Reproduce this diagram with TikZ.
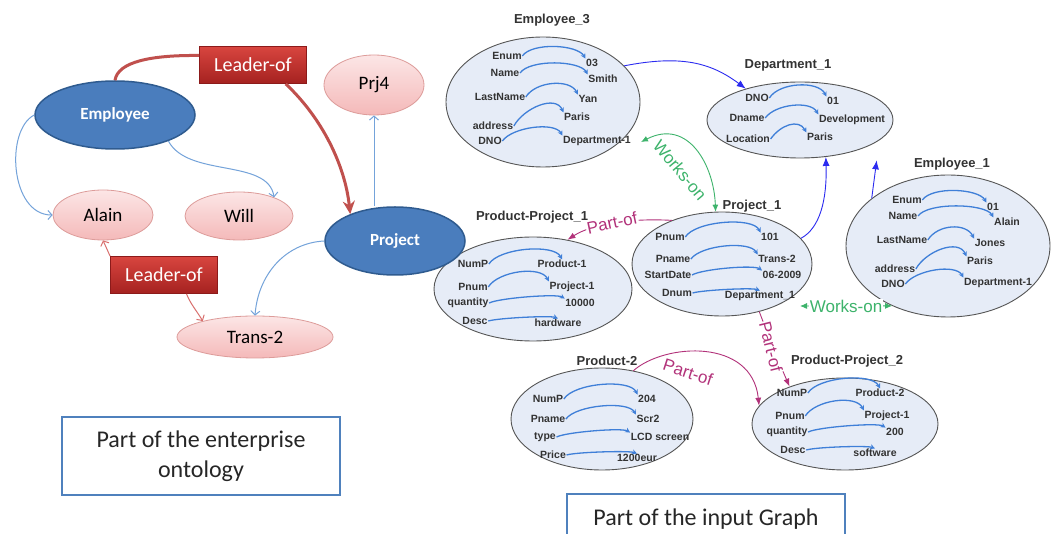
\documentclass[tikz,border=0pt]{standalone}
\usepackage{fontspec}
\setmainfont{Carlito}
\newfontfamily\arialf{Liberation Sans}
\usetikzlibrary{shapes.geometric,arrows.meta}
\definecolor{ontoblue}{HTML}{4A7DBD}
\definecolor{ontoblueb}{HTML}{2F5B8F}
\definecolor{pinktop}{HTML}{FCE6E6}
\definecolor{pinkbot}{HTML}{F4B9B9}
\definecolor{pinkline}{HTML}{DD9C9A}
\definecolor{leadtop}{HTML}{D8453F}
\definecolor{leadbot}{HTML}{A52220}
\definecolor{leadline}{HTML}{8C1A1A}
\definecolor{thinblue}{HTML}{74A3DA}
\definecolor{thickred}{HTML}{C0504D}
\definecolor{thinred}{HTML}{D9706E}
\definecolor{graphfill}{HTML}{E6ECF7}
\definecolor{graphline}{HTML}{555555}
\definecolor{innerblue}{HTML}{3F7FD8}
\definecolor{linkblue}{HTML}{2B2BF0}
\definecolor{workgreen}{HTML}{3DB36B}
\definecolor{partmag}{HTML}{B2327A}
\definecolor{txtgray}{HTML}{333333}
\definecolor{boxblue}{HTML}{4F81BD}
\newcommand\gattr[9]{%
  \node[glabel] (#1l) at (#2,#3) {#4};
  \node[glabel] (#1v) at (#5,#6) {#7};
  \draw[inarr] (#1l.east) .. controls +(10,-#8) and +(-8,-#8) .. (#1v.#9);
}
\tikzset{
  bluenode/.style={ellipse, draw=ontoblueb, line width=1.5pt, fill=ontoblue, text=white,
    font=\bfseries\fontsize{17}{19}\selectfont, inner sep=0pt},
  pinknode/.style={ellipse, draw=pinkline, line width=0.8pt, top color=pinktop, bottom color=pinkbot,
    font=\fontsize{19}{22}\selectfont, inner sep=0pt},
  leadbox/.style={rectangle, draw=leadline, line width=0.8pt, top color=leadtop, bottom color=leadbot,
    text=white, font=\fontsize{20}{22}\selectfont, minimum width=107pt, minimum height=37pt, inner sep=0pt},
  textbox/.style={rectangle, draw=boxblue, line width=1.6pt, fill=white, align=center,
    font=\fontsize{24}{30}\selectfont, text=black!85, minimum width=278pt},
  gnode/.style={ellipse, draw=graphline, line width=0.9pt, fill=graphfill, inner sep=0pt},
  gtitle/.style={font=\arialf\bfseries\fontsize{13}{15}\selectfont, text=txtgray, inner sep=1pt},
  glabel/.style={font=\arialf\bfseries\fontsize{10.5}{12}\selectfont, text=txtgray, inner sep=0.5pt},
  inarr/.style={draw=innerblue, line width=1.3pt, -{Stealth[length=5pt,width=5pt]}},
  linkarr/.style={draw=linkblue, line width=0.9pt, -{Latex[length=9pt,width=7pt]}},
  worksarr/.style={draw=workgreen, line width=0.9pt, {Latex[length=7pt,width=6pt]}-{Latex[length=7pt,width=6pt]}},
  partarr/.style={draw=partmag, line width=0.9pt, -{Latex[length=8pt,width=6pt]}},
  worklabel/.style={font=\arialf\fontsize{17}{19}\selectfont, text=workgreen, inner sep=1pt},
  partlabel/.style={font=\arialf\fontsize{17}{19}\selectfont, text=partmag, inner sep=1pt},
  bluethin/.style={draw=thinblue, line width=1pt, -{Straight Barb[length=4pt,width=9pt]}},
  redthin/.style={draw=thinred, line width=1pt, -{Straight Barb[length=4pt,width=9pt]}},
  redthick/.style={draw=thickred, line width=3pt},
}
\begin{document}
\begin{tikzpicture}[x=1pt,y=-1pt]
\useasboundingbox (0,0) rectangle (1053,534);
\clip (0,0) rectangle (1053,534);
\fill[white] (0,0) rectangle (1053,534);

% ---------- input graph ----------
\node[gnode, minimum width=194pt, minimum height=130pt] (e3) at (543,102) {};
\node[gtitle] (e3t) at (552,20) {Employee\_3};
\gattr{ea}{507}{56}{Enum}{592}{63}{03}{14}{north west}
\gattr{eb}{505}{73}{Name}{603}{79}{Smith}{14}{north west}
\gattr{ec}{500}{97}{LastName}{588}{99}{Yan}{16}{north west}
\gattr{ed}{493}{126}{address}{577}{117}{Paris}{18}{north west}
\gattr{ee}{490}{141}{DNO}{597}{141}{Department-1}{14}{north west}

\node[gnode, minimum width=186pt, minimum height=76pt] (d1) at (800,120) {};
\node[gtitle] (d1t) at (788,65) {Department\_1};
\gattr{da}{757}{98}{DNO}{833}{101}{01}{16}{north west}
\gattr{db}{747}{118}{Dname}{852}{120}{Development}{14}{north west}
\gattr{dc}{748}{139}{Location}{820}{137}{Paris}{14}{north west}

\node[gnode, minimum width=204pt, minimum height=142pt] (e1) at (948,246) {};
\node[gtitle] (e1t) at (952,164) {Employee\_1};
\gattr{fa}{907}{200}{Enum}{993}{207}{01}{14}{north west}
\gattr{fb}{903}{216}{Name}{1007}{222}{Alain}{14}{north west}
\gattr{fc}{902}{240}{LastName}{990}{243}{Jones}{16}{north west}
\gattr{fd}{895}{269}{address}{980}{261}{Paris}{18}{north west}
\gattr{fe}{893}{284}{DNO}{998}{283}{Department-1}{14}{north west}

\node[gnode, minimum width=180pt, minimum height=104pt] (p1) at (722,264) {};
\node[gtitle] (p1t) at (752,206) {Project\_1};
\gattr{pa}{670}{237}{Pnum}{770}{237}{101}{16}{north west}
\gattr{pb}{673}{259}{Pname}{777}{259}{Trans-2}{14}{north west}
\gattr{pc}{668}{275}{StartDate}{782}{275}{06-2009}{6}{north west}
\gattr{pd}{677}{293}{Dnum}{760}{296}{Department\_1}{3}{north}

\node[gnode, minimum width=198pt, minimum height=104pt] (pp1) at (533,289) {};
\node[gtitle] (pp1t) at (532,217) {Product-Project\_1};
\gattr{qa}{473}{264}{NumP}{562}{264}{Product-1}{16}{north}
\gattr{qb}{473}{287}{Pnum}{572}{287}{Project-1}{16}{north west}
\gattr{qc}{468}{303}{quantity}{580}{303}{10000}{5}{north west}
\gattr{qd}{475}{321}{Desc}{558}{323}{hardware}{3}{north}

\node[gnode, minimum width=182pt, minimum height=102pt] (p2) at (602,419) {};
\node[gtitle] (p2t) at (607,361) {Product-2};
\gattr{ra}{548}{399}{NumP}{647}{399}{204}{16}{north west}
\gattr{rb}{548}{419}{Pname}{648}{419}{Scr2}{14}{north west}
\gattr{rc}{545}{437}{type}{660}{437}{LCD screen}{5}{north west}
\gattr{rd}{553}{455}{Price}{637}{458}{1200eur}{3}{north}

\node[gnode, minimum width=186pt, minimum height=92pt] (pp2) at (845,424) {};
\node[gtitle] (pp2t) at (847,361) {Product-Project\_2};
\gattr{sa}{792}{393}{NumP}{880}{393}{Product-2}{16}{north}
\gattr{sb}{790}{416}{Pnum}{887}{416}{Project-1}{16}{north west}
\gattr{sc}{787}{432}{quantity}{895}{432}{200}{5}{north west}
\gattr{sd}{793}{450}{Desc}{875}{453}{software}{3}{north}

% graph connectors
\draw[linkarr] (e3.24) .. controls (680,55) and (710,62) .. (d1.150);
\draw[linkarr] (p1.18) .. controls (820,228) and (827,200) .. (d1.-55);
\draw[linkarr] (e1.148) -- ++(5,-38);

\coordinate (w1) at (641,142);
\draw[worksarr] (w1) .. controls (688,118) and (714,165) .. (p1.97);
\node[worklabel, rotate=-50] (wl1) at (680,170) {Works-on};

\coordinate (wo) at (800,306);
\draw[worksarr] (wo) -- node[worklabel, fill=white] (wl2) {Works-on} (e1.-133);

\draw[partarr] (p1.139) .. controls (630,218) and (592,224) .. (pp1.55);
\node[partlabel, fill=white, rotate=12] (pl1) at (612,223) {Part-of};

\draw[partarr] (p1.-52) .. controls (768,335) and (778,360) .. (pp2.146);
\node[partlabel, fill=white, rotate=-76] (pl2) at (771,347) {Part-of};

\draw[partarr] (p2.57) .. controls (665,343) and (752,338) .. (pp2.168);
\node[partlabel, rotate=-18] (pl3) at (688,372) {Part-of};

% ---------- ontology ----------
\node[bluenode, minimum width=160pt, minimum height=68pt] (emp) at (115,115) {Employee};
\node[pinknode, minimum width=100pt, minimum height=50pt] (alain) at (103,215) {Alain};
\node[pinknode, minimum width=108pt, minimum height=48pt] (will) at (239,216) {Will};
\node[pinknode, minimum width=100pt, minimum height=60pt] (prj4) at (374,85) {Prj4};
\node[bluenode, minimum width=140pt, minimum height=68pt] (proj) at (395,241) {Project};
\node[pinknode, minimum width=156pt, minimum height=42pt] (trans) at (255,337) {Trans-2};
\node[leadbox] (lead1) at (253,65) {Leader-of};
\node[leadbox] (lead2) at (164,275) {Leader-of};

\draw[redthick] (emp.north) .. controls (118,62) and (150,55) .. (lead1.170);
\draw[redthick, -{Stealth[length=13pt,width=12pt]}] (lead1.-30) .. controls (322,118) and (345,165) .. (proj.149);
\draw[bluethin] (emp.west) .. controls (5,130) and (10,215) .. (alain.west);
\draw[bluethin] (emp.-26) .. controls (188,178) and (268,158) .. (will.28);
\draw[bluethin] (proj.north -| prj4.south) -- (prj4.south);
\draw[bluethin] (proj.west) .. controls (285,243) and (258,275) .. (trans.north);
\draw[redthin] (lead2.north west) -- (alain.south);
\draw[redthin] (lead2.-40) .. controls (190,303) and (196,310) .. (trans.163);

% ---------- captions ----------
\node[textbox, minimum height=78pt] (cap1) at (201,456) {Part of the enterprise\\ontology};
\node[textbox, minimum height=50pt, anchor=north] (cap2) at (706,493) {Part of the input Graph};
\end{tikzpicture}
\end{document}
